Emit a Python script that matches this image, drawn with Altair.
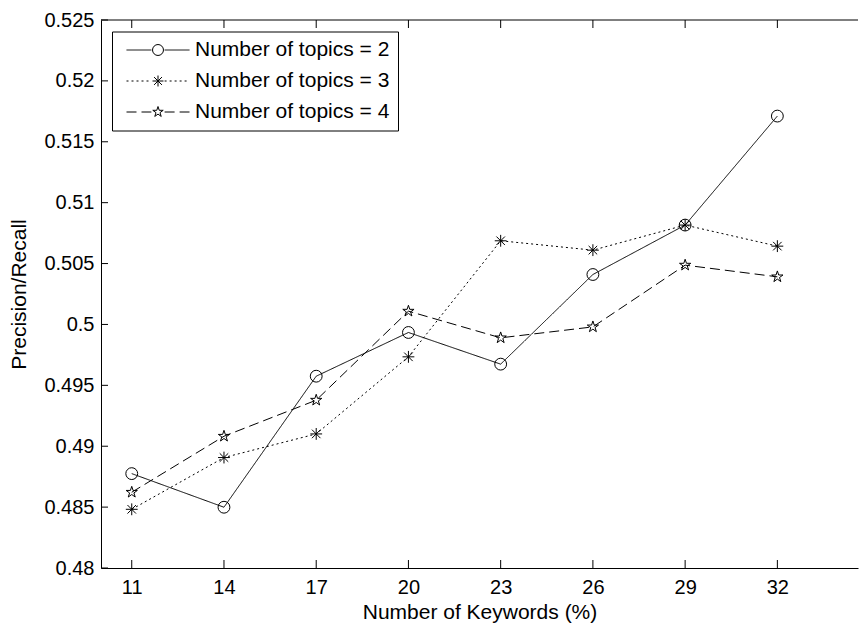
import altair as alt
import pandas as pd
import numpy as np

# ---- data ----
keywords = [11, 14, 17, 20, 23, 26, 29, 32]
topics2 = [0.48775, 0.48499, 0.49575, 0.49934, 0.49674, 0.50410, 0.50816, 0.51711]
topics3 = [0.48482, 0.48907, 0.49101, 0.49734, 0.50687, 0.50610, 0.50816, 0.50643]
topics4 = [0.48622, 0.49082, 0.49378, 0.50109, 0.49890, 0.49980, 0.50487, 0.50391]
series_names = ["Number of topics = 2", "Number of topics = 3", "Number of topics = 4"]
line_keys = ["2", "3", "4"]
x_ticks = [11, 14, 17, 20, 23, 26, 29, 32]
y_ticks = [0.48, 0.485, 0.49, 0.495, 0.5, 0.505, 0.51, 0.515, 0.52, 0.525]
x_domain = [10, 34.623]
y_domain = [0.48, 0.525]

W, H = 757, 548
FONT = "Liberation Sans"

rows = []
for name, key, vals in zip(series_names, line_keys, [topics2, topics3, topics4]):
    for k, v in zip(keywords, vals):
        rows.append({"x": k, "y": v, "series": name, "dash": key})
df = pd.DataFrame(rows)
xt = pd.DataFrame({"v": x_ticks})
yt = pd.DataFrame({"v": y_ticks})
one = pd.DataFrame({"a": [0]})

# marker shapes
def star_path():
    pts = []
    for k in range(10):
        ang = np.deg2rad(-90 + 36 * k)
        r = 1.0 if k % 2 == 0 else 0.382
        pts.append((r * np.cos(ang), r * np.sin(ang)))
    return "M" + "L".join(f"{px:.3f},{py:.3f}" for px, py in pts) + "Z"

asterisk = "M-1,0L1,0M0,-1L0,1M-0.72,-0.72L0.72,0.72M-0.72,0.72L0.72,-0.72"
star = star_path()
legend_line = "M-5.25,0L-1.1,0M1.1,0L5.25,0"

xscale = alt.Scale(domain=x_domain, nice=False, zero=False)
yscale = alt.Scale(domain=y_domain, nice=False, zero=False)
xaxis = alt.Axis(values=x_ticks, ticks=False, grid=False, domainColor="black", domainWidth=1,
                 labelFontSize=20, labelPadding=9, titleFontSize=21, titlePadding=4,
                 labelColor="black", titleColor="black", labelFont=FONT, titleFont=FONT,
                 titleFontWeight="normal")
yaxis = alt.Axis(values=y_ticks, format=".3~f", ticks=False, grid=False, domainColor="black",
                 domainWidth=1, labelFontSize=20, labelPadding=7, titleFontSize=21,
                 titlePadding=14, labelColor="black", titleColor="black", labelFont=FONT,
                 titleFont=FONT, titleFontWeight="normal")
XT = "Number of Keywords (%)"
YT = "Precision/Recall"

def X(f):
    return alt.X(f"{f}:Q", scale=xscale, axis=xaxis, title=XT)

def Y(f):
    return alt.Y(f"{f}:Q", scale=yscale, axis=yaxis, title=YT)

LX, LY = 11, 11.5

# line legend: dashed segments only (no text)
lines = alt.Chart(df).mark_line(color="black", strokeWidth=1).encode(
    x=X("x"), y=Y("y"),
    strokeDash=alt.StrokeDash(
        "dash:N",
        scale=alt.Scale(domain=line_keys, range=[[1, 0], [2, 3], [10, 5]]),
        legend=alt.Legend(orient="none", legendX=LX, legendY=LY, title=None,
                          symbolType=legend_line, symbolSize=144, symbolStrokeColor="black",
                          symbolStrokeWidth=1, symbolOffset=27.5, labelOffset=0,
                          labelExpr="''", labelFontSize=21,
                          padding=8, rowPadding=9),
    ),
)

# marker legend: markers, labels and the box
points = alt.Chart(df).mark_point(filled=False, color="black", strokeWidth=1, size=140,
                                  opacity=1).encode(
    x=X("x"), y=Y("y"),
    shape=alt.Shape(
        "series:N",
        scale=alt.Scale(domain=series_names, range=["circle", asterisk, star]),
        legend=alt.Legend(orient="none", legendX=LX, legendY=LY, title=None,
                          symbolSize=120, symbolStrokeColor="black", symbolStrokeWidth=1,
                          symbolFillColor="transparent", symbolOffset=27.5, labelOffset=26.5,
                          labelFont=FONT, labelFontSize=21, labelColor="black", labelLimit=0,
                          padding=8, rowPadding=9, strokeColor="black"),
    ),
)

bottom_ticks = alt.Chart(xt).mark_rule(color="black", strokeWidth=1).encode(
    x=X("v"), y=alt.value(H), y2=alt.value(H - 8))
top_ticks = alt.Chart(xt).mark_rule(color="black", strokeWidth=1).encode(
    x=X("v"), y=alt.value(0), y2=alt.value(8))
left_ticks = alt.Chart(yt).mark_rule(color="black", strokeWidth=1).encode(
    y=Y("v"), x=alt.value(0), x2=alt.value(7))
top_border = alt.Chart(one).mark_rule(color="black", strokeWidth=1).encode(
    x=alt.value(0), x2=alt.value(W), y=alt.value(0))

chart = alt.layer(lines, points, bottom_ticks, top_ticks, left_ticks, top_border).properties(
    width=W, height=H,
    autosize=alt.AutoSizeParams(type="none"),
    padding={"left": 101, "top": 20, "right": 1, "bottom": 56},
    background="white",
).configure_view(stroke=None)

chart.save("out.html", embed_options={"renderer": "svg", "actions": False})
